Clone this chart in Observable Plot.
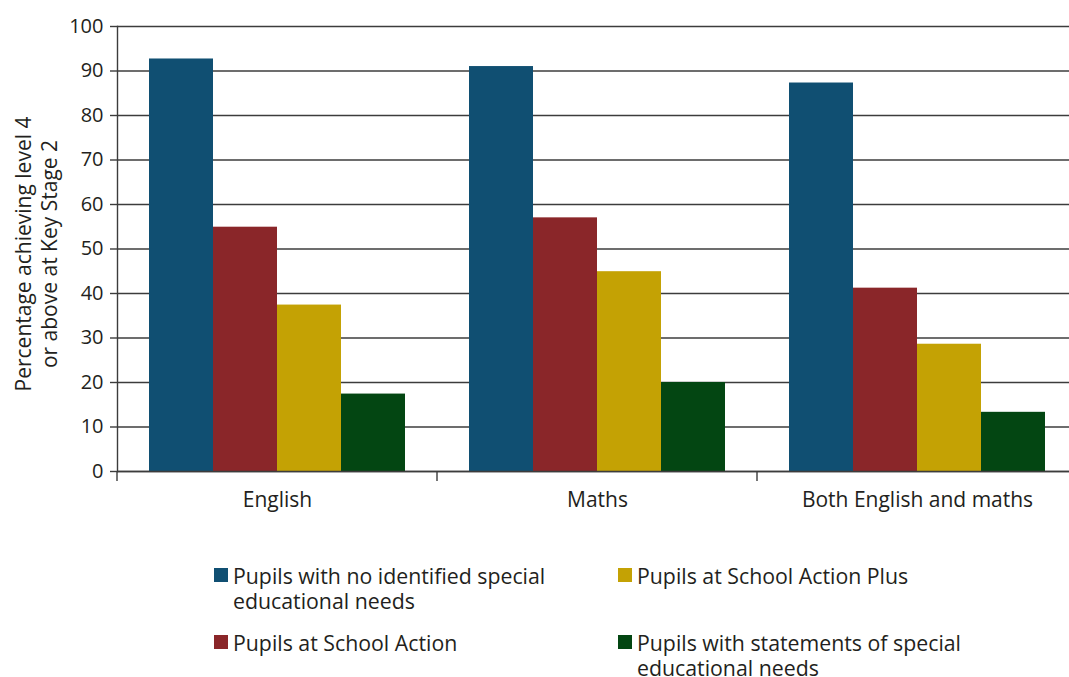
<!DOCTYPE html>
<html><head><meta charset="utf-8">
<script src="https://cdn.jsdelivr.net/npm/d3@7"></script>
<script src="https://cdn.jsdelivr.net/npm/@observablehq/plot@0.6"></script>
<style>
html,body{margin:0;padding:0;background:#fff;overflow:hidden}
body{font-family:"Open Sans", sans-serif;color:#231f20;width:1069px;height:677px;position:relative}
#chart{position:absolute;left:0;top:0}
#chart svg{overflow:hidden;display:block}
.legend{position:absolute;left:214px;top:563px;display:grid;grid-template-columns:404px 420px;grid-template-rows:67px auto;grid-auto-flow:column;font-size:21.3px;line-height:25px}
.item{display:flex;align-items:flex-start}
.sw{width:14px;height:14px;margin-top:5px;margin-right:5px;flex:none}
.lbl{max-width:345px}
</style></head>
<body>
<div id="chart"></div>
<div class="legend" id="legend"></div>
<script>
const subjects = ["English", "Maths", "Both English and maths"];
const groups = [
  "Pupils with no identified special educational needs",
  "Pupils at School Action",
  "Pupils at School Action Plus",
  "Pupils with statements of special educational needs"
];
const noSEN = [92.7, 91.0, 87.3];
const schoolAction = [54.9, 57.0, 41.2];
const schoolActionPlus = [37.4, 44.9, 28.6];
const statements = [17.4, 20.0, 13.3];
const colors = ["#104f72", "#8a2629", "#c4a204", "#034612"];
const yTicks = [0, 10, 20, 30, 40, 50, 60, 70, 80, 90, 100];
const yLabel = "Percentage achieving level 4\nor above at Key Stage 2";

const series = [noSEN, schoolAction, schoolActionPlus, statements];
const data = subjects.flatMap((s, i) => groups.map((g, j) => ({subject: s, group: g, value: series[j][i]})));

const boundaryTick = (index, scales, values, dims) => {
  const y0 = scales.y(0);
  const g = d3.create("svg:g");
  g.append("line")
    .attr("x1", dims.marginLeft).attr("x2", dims.marginLeft)
    .attr("y1", y0).attr("y2", y0 + 10)
    .attr("stroke", "#3c3c3c").attr("stroke-width", 1.4);
  return g.node();
};

const chart = Plot.plot({
  width: 1069,
  height: 530,
  marginTop: 26,
  marginBottom: 59,
  marginLeft: 117,
  marginRight: -8,
  style: {fontFamily: "'Open Sans', sans-serif", fontSize: "20px", color: "#231f20", background: "#fff", overflow: "hidden"},
  fx: {domain: subjects, padding: 0, label: null},
  x: {domain: groups, axis: null, paddingInner: 0, paddingOuter: 0.49},
  y: {domain: [0, 100], label: null},
  color: {domain: groups, range: colors},
  marks: [
    Plot.gridY(yTicks, {stroke: "#3c3c3c", strokeOpacity: 1, strokeWidth: 1.4}),
    Plot.barY(data, {fx: "subject", x: "group", y: "value", fill: "group"}),
    Plot.ruleY([0], {stroke: "#3c3c3c", strokeWidth: 1.4}),
    Plot.frame({anchor: "left", facetAnchor: "left", stroke: "#3c3c3c", strokeWidth: 1.4}),
    boundaryTick,
    Plot.axisY(yTicks, {tickSize: 7, tickPadding: 7, label: null, stroke: "#3c3c3c", strokeWidth: 1.4, fontSize: 20}),
    Plot.text([yLabel], {frameAnchor: "left", facetAnchor: "left", rotate: -90, dx: -105, dy: 5, textAnchor: "middle", lineAnchor: "top", lineHeight: 1.24, fontSize: 21, fill: "#231f20"}),
    Plot.axisFx({anchor: "bottom", tickSize: 0, tickPadding: 21, label: null, fontSize: 21})
  ]
});
document.getElementById("chart").appendChild(chart);

const legend = document.getElementById("legend");
groups.forEach((g, j) => {
  const item = document.createElement("div");
  item.className = "item";
  const sw = document.createElement("span");
  sw.className = "sw";
  sw.style.background = colors[j];
  const lbl = document.createElement("span");
  lbl.className = "lbl";
  lbl.textContent = g;
  item.appendChild(sw);
  item.appendChild(lbl);
  legend.appendChild(item);
});
</script>
</body></html>
